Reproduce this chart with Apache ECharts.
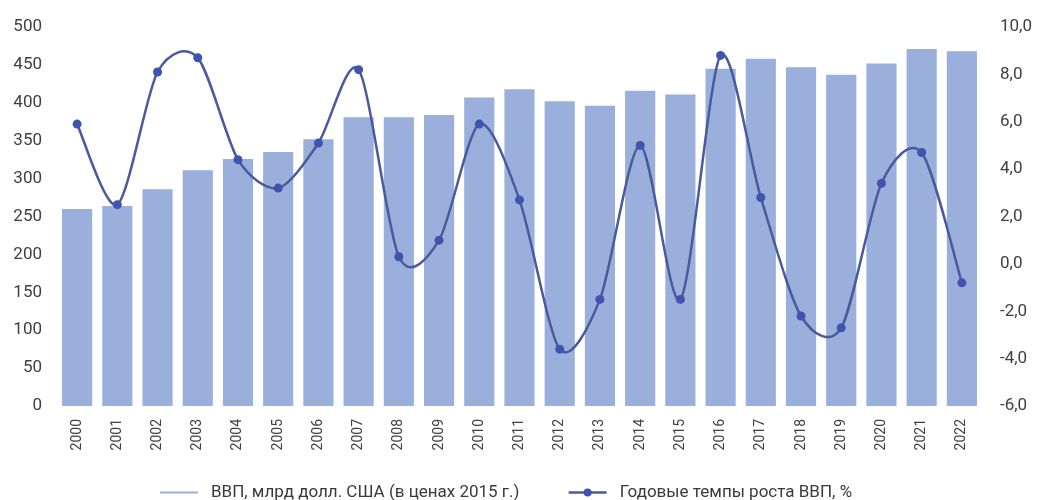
<!DOCTYPE html>
<html>
<head>
<meta charset="utf-8">
<script src="https://cdn.jsdelivr.net/npm/echarts@6/dist/echarts.min.js"></script>
<style>
html,body{margin:0;padding:0;background:#fff;}
#chart{width:1037px;height:500px;}
</style>
</head>
<body>
<div id="chart"></div>
<script>
var categories = ['2000','2001','2002','2003','2004','2005','2006','2007','2008','2009','2010','2011','2012','2013','2014','2015','2016','2017','2018','2019','2020','2021','2022'];
var gdpValues = [260,264,286,311,326,335,352,381,381,384,407,418,402,396,416,411,445,458,447,437,452,471,468];
var growthValues = [5.9,2.5,8.1,8.7,4.4,3.2,5.1,8.2,0.3,1.0,5.9,2.7,-3.6,-1.5,5.0,-1.5,8.8,2.8,-2.2,-2.7,3.4,4.7,-0.8];
var leftTicks = [0,50,100,150,200,250,300,350,400,450,500];
var rightTicks = [-6,-4,-2,0,2,4,6,8,10];
var gdpName = 'ВВП, млрд долл. США (в ценах 2015 г.)';
var growthName = 'Годовые темпы роста ВВП, %';

var lineColor = '#4A5A9C';
var chart = echarts.init(document.getElementById('chart'));
var font = 'Roboto, "Noto Sans", sans-serif';

function clampIdx(i) {
  return Math.max(0, Math.min(growthValues.length - 1, i));
}
function renderSegment(params, api) {
  var i = params.dataIndex;
  if (i >= growthValues.length - 1) return null;
  var a = clampIdx(i - 1), d = clampIdx(i + 2);
  var p0 = api.coord([a, growthValues[a]]);
  var p1 = api.coord([i, growthValues[i]]);
  var p2 = api.coord([i + 1, growthValues[i + 1]]);
  var p3 = api.coord([d, growthValues[d]]);
  var f = 0.14;
  return {
    type: 'bezierCurve',
    shape: {
      x1: p1[0], y1: p1[1],
      cpx1: p1[0] + (p2[0] - p0[0]) * f, cpy1: p1[1] + (p2[1] - p0[1]) * f,
      cpx2: p2[0] - (p3[0] - p1[0]) * f, cpy2: p2[1] - (p3[1] - p1[1]) * f,
      x2: p2[0], y2: p2[1]
    },
    style: {stroke: lineColor, lineWidth: 2.5, fill: null}
  };
}

chart.setOption({
  animation: false,
  textStyle: {fontFamily: font},
  grid: {left: 57, right: 55, top: 27, bottom: 94},
  legend: {
    top: 479,
    left: 155,
    itemGap: 48,
    itemWidth: 38,
    itemHeight: 10,
    textStyle: {fontSize: 17, color: '#3a3a3a', fontFamily: font, padding: [0, 0, 0, 8]},
    data: [
      {name: gdpName, icon: 'path://M0,0 L0,0 M0,4 L38,4 L38,6 L0,6 Z M38,10 L38,10'},
      {name: growthName, lineStyle: {color: lineColor, width: 2.5, opacity: 1}}
    ]
  },
  xAxis: {
    type: 'category',
    data: categories,
    axisLine: {show: false},
    axisTick: {show: false},
    axisLabel: {rotate: 90, fontSize: 14, color: '#404040', margin: 13, fontFamily: font}
  },
  yAxis: [
    {
      type: 'value', min: leftTicks[0], max: leftTicks[leftTicks.length-1], interval: 50,
      splitLine: {show: false}, axisLine: {show: false}, axisTick: {show: false},
      axisLabel: {fontSize: 17, color: '#404040', margin: 15}
    },
    {
      type: 'value', min: rightTicks[0], max: rightTicks[rightTicks.length-1], interval: 2,
      splitLine: {show: false}, axisLine: {show: false}, axisTick: {show: false},
      axisLabel: {fontSize: 17, color: '#404040', margin: 18,
        formatter: function(v){ return v.toFixed(1).replace('.', ','); }}
    }
  ],
  series: [
    {
      name: gdpName, type: 'bar', data: gdpValues, yAxisIndex: 0,
      barCategoryGap: '25%',
      itemStyle: {color: '#9AAFDB'}
    },
    {
      name: 'growthCurve', type: 'custom', yAxisIndex: 1,
      data: growthValues.map(function(v, i){ return [i, v]; }),
      encode: {x: 0, y: 1},
      renderItem: renderSegment,
      silent: true, z: 3
    },
    {
      name: growthName, type: 'line', data: growthValues, yAxisIndex: 1,
      symbol: 'circle', symbolSize: 9,
      lineStyle: {color: lineColor, width: 2.5, opacity: 0},
      itemStyle: {color: '#3F54AE'},
      z: 4
    }
  ]
});
</script>
</body>
</html>
